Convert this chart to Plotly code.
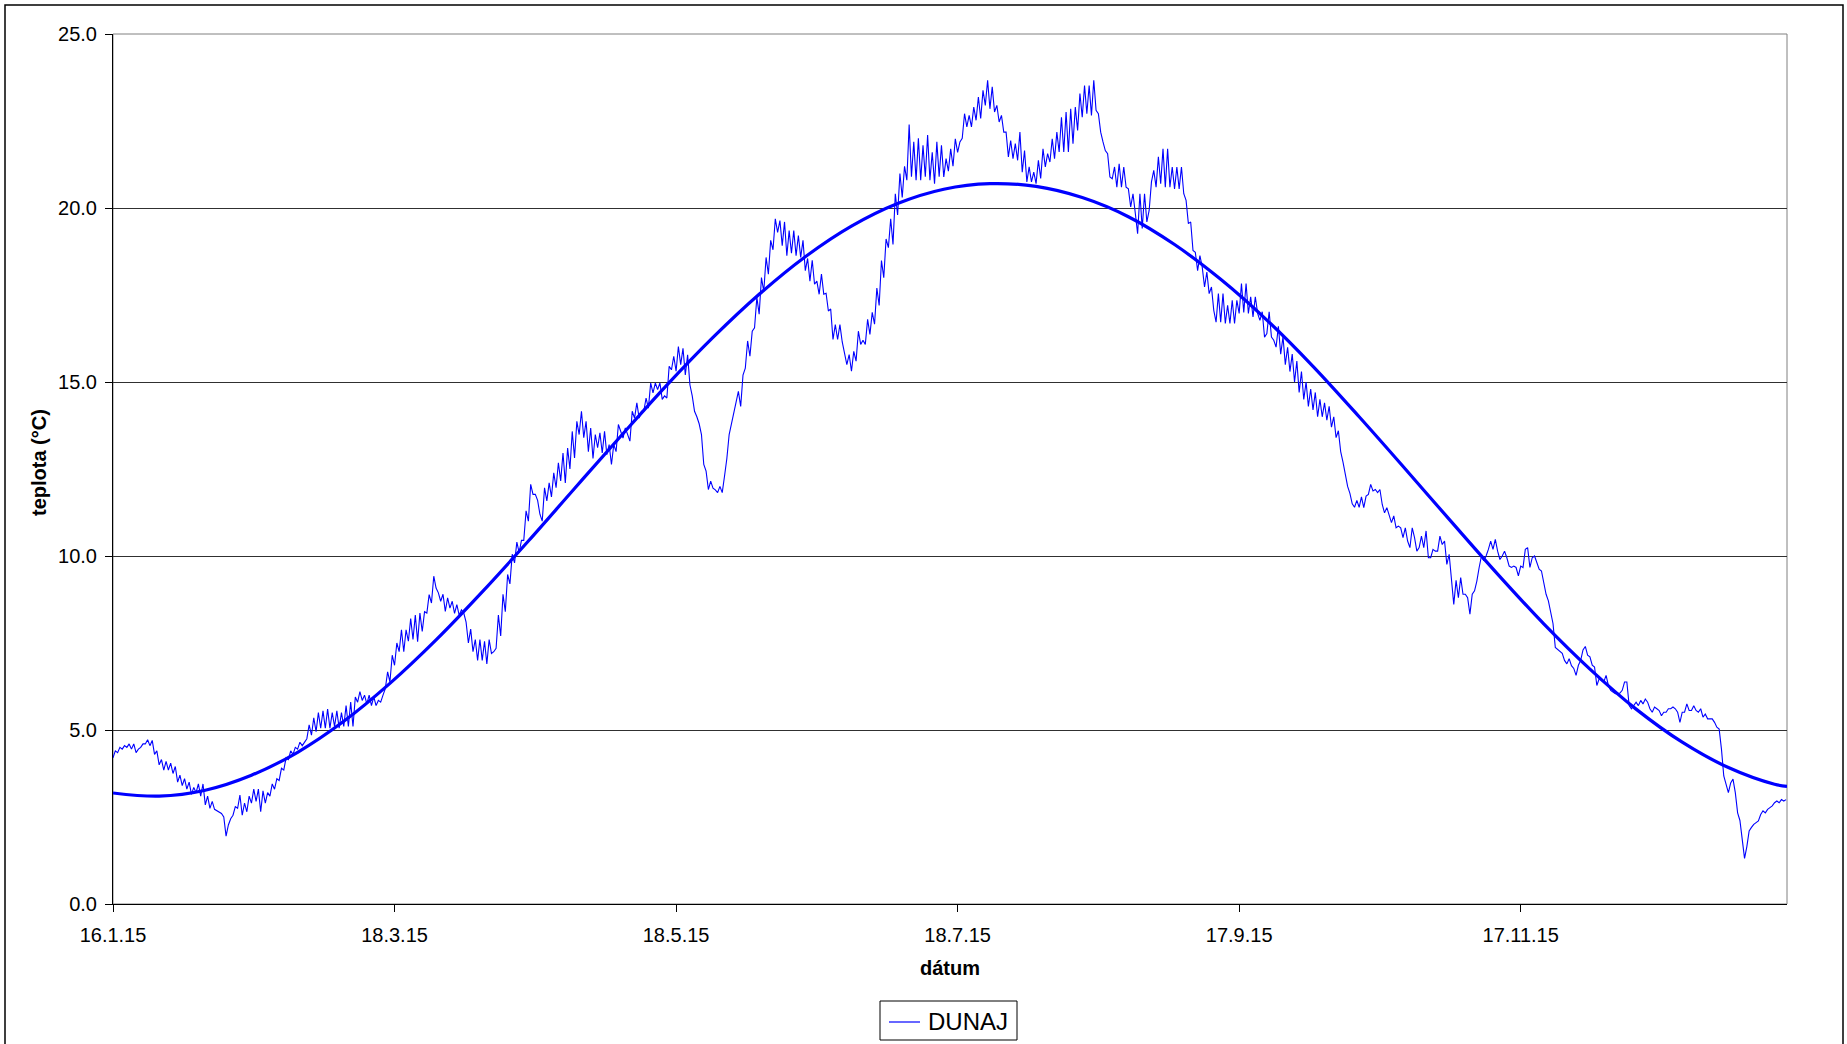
import pandas as pd
import plotly.graph_objects as go

# Danube (DUNAJ) water temperature, readings every 12 hours, grouped by month
jan15 = [4.20, 4.40, 4.35, 4.50, 4.45, 4.55, 4.50, 4.60, 4.45, 4.60, 4.35, 4.45, 4.50, 4.60, 4.60, 4.72,
         4.55, 4.70, 4.30, 4.40, 4.00, 4.15, 3.85, 4.10, 3.85, 4.05, 3.75, 3.95, 3.50, 3.70, 3.40, 3.60]
feb15 = [3.30, 3.50, 3.15, 3.35, 3.20, 3.45, 3.10, 3.45, 2.85, 3.10, 2.75, 2.95, 2.72, 2.68, 2.64, 2.60,
         2.50, 1.95, 2.27, 2.45, 2.55, 2.80, 2.75, 3.13, 2.55, 2.90, 2.65, 3.10, 2.90, 3.30, 2.95, 3.30,
         2.65, 3.25, 2.90, 3.20, 3.10, 3.45, 3.30, 3.60, 3.55, 3.90, 3.85, 4.20, 4.15, 4.40, 4.30, 4.50,
         4.45, 4.65, 4.55, 4.65, 4.75, 5.15, 4.85, 5.35]
mar15 = [4.95, 5.50, 5.05, 5.55, 5.05, 5.60, 5.05, 5.50, 5.10, 5.55, 5.05, 5.50, 5.10, 5.70, 5.10, 5.80,
         5.10, 5.95, 5.80, 6.10, 5.85, 6.00, 5.75, 6.00, 5.70, 5.95, 5.70, 5.85, 5.80, 6.00, 6.19, 6.67,
         6.38, 7.15, 6.86, 7.50, 7.25, 7.88, 7.25, 7.88, 7.55, 8.20, 7.60, 8.30, 7.54, 8.36, 7.83, 8.40,
         8.36, 8.89, 8.65, 9.42, 9.08, 8.94, 8.70, 8.90, 8.41, 8.80, 8.50, 8.70, 8.35, 8.60]
apr15 = [8.30, 8.45, 8.36, 8.10, 7.50, 7.90, 7.25, 7.60, 7.00, 7.60, 7.00, 7.55, 6.90, 7.60, 7.20, 7.25,
         7.35, 8.30, 7.70, 8.90, 8.40, 9.47, 9.20, 10.05, 9.80, 10.40, 10.10, 10.45, 10.45, 11.30, 11.00, 12.06,
         11.77, 11.77, 11.60, 11.20, 11.00, 11.96, 11.58, 12.10, 11.70, 12.39, 11.96, 12.68, 12.16, 12.96, 12.10, 13.10,
         12.50, 13.58, 12.82, 13.87, 13.49, 14.16, 13.40, 13.87, 13.00, 13.68, 12.80, 13.49]
may15 = [13.11, 13.54, 12.96, 13.58, 12.91, 13.20, 12.63, 13.20, 13.00, 13.78, 13.58, 13.39, 13.68, 13.49, 13.30, 14.16,
         13.96, 14.40, 13.96, 14.16, 14.16, 14.54, 14.25, 14.97, 14.69, 14.97, 14.78, 14.97, 14.50, 14.60, 14.54, 15.45,
         15.35, 15.74, 15.31, 16.02, 15.50, 15.97, 15.20, 15.78, 14.92, 14.60, 14.16, 14.00, 13.80, 13.49, 12.63, 12.44,
         11.91, 12.15, 11.95, 11.90, 11.82, 12.00, 11.82, 12.30, 12.80, 13.49, 13.80, 14.10, 14.35, 14.73]
jun15 = [14.30, 15.20, 15.40, 16.18, 15.74, 16.46, 16.56, 17.43, 16.95, 18.00, 17.60, 18.58, 18.10, 19.07, 18.80, 19.69,
         19.30, 19.64, 18.92, 19.60, 18.63, 19.35, 18.70, 19.35, 18.63, 19.21, 18.58, 19.07, 18.20, 18.55, 17.90, 18.50,
         17.81, 17.90, 17.52, 18.10, 17.52, 17.55, 17.04, 17.10, 16.22, 16.65, 16.22, 16.65, 16.15, 15.79, 15.50, 15.79,
         15.31, 15.88, 15.60, 16.46, 16.08, 16.20, 16.08, 16.80, 16.37, 17.00, 16.66, 17.70]
jul15 = [17.20, 18.49, 18.00, 19.11, 18.86, 19.69, 18.95, 20.41, 19.80, 20.99, 20.30, 21.20, 20.80, 22.40, 20.90, 21.90,
         20.80, 22.00, 20.80, 21.80, 20.90, 22.10, 20.80, 21.60, 20.70, 21.90, 20.90, 21.80, 20.89, 21.42, 21.06, 21.70,
         21.20, 21.99, 21.60, 21.90, 22.00, 22.71, 22.33, 22.66, 22.33, 22.90, 22.52, 23.19, 22.57, 23.38, 22.95, 23.67,
         22.85, 23.48, 22.76, 22.95, 22.47, 22.66, 22.18, 22.18, 21.47, 21.94, 21.42, 21.85, 21.37, 22.18]
aug15 = [21.03, 21.65, 20.75, 21.18, 20.75, 21.03, 20.70, 21.37, 20.85, 21.70, 21.18, 21.56, 21.32, 21.99, 21.42, 22.18,
         21.61, 22.61, 21.61, 22.76, 21.61, 22.85, 21.85, 22.90, 22.23, 23.29, 22.61, 23.52, 22.71, 23.52, 22.66, 23.67,
         22.81, 22.71, 22.18, 21.90, 21.65, 21.56, 20.89, 20.84, 21.18, 20.60, 21.27, 20.60, 21.18, 20.60, 20.55, 20.03,
         20.41, 19.85, 19.26, 20.41, 19.41, 20.41, 19.60, 19.93, 20.75, 21.08, 20.60, 21.47, 20.70, 21.70]
sep15 = [20.60, 21.70, 20.60, 21.18, 20.55, 21.18, 20.55, 21.18, 20.41, 20.22, 19.55, 19.60, 18.78, 18.73, 18.20, 18.63,
         18.30, 17.73, 18.16, 17.54, 17.73, 17.06, 16.72, 17.54, 16.72, 17.54, 16.68, 17.20, 16.68, 17.35, 16.68, 17.35,
         16.97, 17.83, 17.00, 17.83, 16.97, 17.45, 16.87, 17.45, 16.97, 16.77, 17.02, 16.29, 16.39, 17.02, 16.29, 16.20,
         16.00, 16.60, 15.80, 16.30, 15.50, 16.00, 15.30, 15.80, 15.00, 15.60, 14.70, 15.30]
oct15 = [14.50, 15.00, 14.30, 14.80, 14.20, 14.70, 14.00, 14.50, 14.00, 14.40, 13.90, 14.30, 13.70, 14.00, 13.40, 13.60,
         13.00, 12.70, 12.30, 12.00, 11.80, 11.50, 11.40, 11.60, 11.40, 11.70, 11.39, 11.72, 11.77, 12.06, 11.87, 11.91,
         11.82, 11.91, 11.48, 11.24, 11.39, 11.20, 10.96, 11.15, 10.81, 10.86, 10.81, 10.53, 10.81, 10.43, 10.24, 10.81,
         10.53, 10.14, 10.24, 10.57, 10.24, 10.72, 9.95, 9.95, 10.19, 10.14, 10.14, 10.57, 10.33, 10.43]
nov15 = [9.76, 10.05, 9.20, 8.61, 9.30, 8.80, 9.38, 8.90, 8.90, 8.80, 8.33, 8.90, 9.00, 9.28, 9.67, 10.00,
         9.86, 10.00, 10.19, 10.43, 10.19, 10.48, 10.14, 9.90, 10.00, 10.14, 9.95, 9.71, 9.67, 9.71, 9.67, 9.43,
         9.71, 9.67, 10.19, 10.24, 9.67, 9.95, 10.00, 9.81, 9.62, 9.57, 9.19, 8.90, 8.71, 8.42, 8.06, 7.37,
         7.32, 7.27, 7.20, 7.00, 6.90, 7.05, 6.85, 6.77, 6.57, 6.86, 7.00, 7.30]
dec15 = [7.40, 7.15, 7.10, 6.86, 6.81, 6.28, 6.47, 6.43, 6.38, 6.57, 6.28, 6.14, 6.09, 6.04, 6.04, 6.06,
         6.14, 6.38, 6.38, 5.70, 5.61, 5.70, 5.80, 5.70, 5.85, 5.75, 5.89, 5.80, 5.61, 5.51, 5.66, 5.61,
         5.56, 5.41, 5.51, 5.51, 5.61, 5.61, 5.66, 5.61, 5.51, 5.22, 5.51, 5.51, 5.75, 5.56, 5.56, 5.70,
         5.56, 5.51, 5.61, 5.37, 5.46, 5.32, 5.32, 5.32, 5.22, 5.08, 5.03, 4.45, 3.68, 3.44]
jan16 = [3.20, 3.48, 3.59, 3.20, 2.62, 2.40, 1.75, 1.31, 1.65, 2.10, 2.20, 2.29, 2.34, 2.39, 2.57, 2.68,
         2.62, 2.72, 2.77, 2.82, 2.91, 2.96, 2.91, 3.00, 2.96, 3.00]

month_starts = ["2015-01-16", "2015-02-01", "2015-03-01", "2015-04-01", "2015-05-01", "2015-06-01",
                "2015-07-01", "2015-08-01", "2015-09-01", "2015-10-01", "2015-11-01", "2015-12-01",
                "2016-01-01"]
month_values = [jan15, feb15, mar15, apr15, may15, jun15, jul15, aug15, sep15, oct15, nov15, dec15, jan16]

# Smoothed annual cycle, sampled every 10 days from 16.1.15 (last sample at the axis end)
trend_days = [0, 10, 20, 30, 40, 50, 60, 70, 80, 90, 100, 110, 120, 130, 140, 150, 160, 170, 180,
              190, 200, 210, 220, 230, 240, 250, 260, 270, 280, 290, 300, 310, 320, 330, 340, 350,
              360, 362.7]
trend_vals = [3.19, 3.10, 3.27, 3.70, 4.36, 5.25, 6.34, 7.59, 8.97, 10.43, 11.94, 13.44, 14.91,
              16.28, 17.52, 18.60, 19.48, 20.13, 20.54, 20.70, 20.62, 20.30, 19.75, 18.95, 17.95,
              16.78, 15.45, 14.00, 12.50, 10.98, 9.48, 8.05, 6.75, 5.60, 4.65, 3.92, 3.44, 3.38]

# Axis ticks
tick_dates = ["2015-01-16", "2015-03-18", "2015-05-18", "2015-07-18", "2015-09-17", "2015-11-17"]
tick_labels = ["16.1.15", "18.3.15", "18.5.15", "18.7.15", "17.9.15", "17.11.15"]

series_name = "DUNAJ"
x_title = "dátum"
y_title = "teplota (°C)"

times, temps = [], []
for start, vals in zip(month_starts, month_values):
    times.extend(pd.date_range(start, periods=len(vals), freq="12h"))
    temps.extend(vals)

origin = pd.Timestamp("2015-01-16")
trend_times = [origin + pd.Timedelta(days=d) for d in trend_days]
x_end = origin + pd.Timedelta(days=362.7)

FONT = "Liberation Sans, Arial, sans-serif"
LINE_BLUE = "#0000ff"
W, H = 1847, 1044
L, R, T, B = 113, 60, 34, 140
pw, ph = W - L - R, H - T - B


def px(x):
    return (x - L) / pw


def py(y):
    return (H - B - y) / ph


fig = go.Figure()
fig.add_trace(go.Scatter(
    x=times, y=temps, mode="lines", name=series_name,
    line=dict(color=LINE_BLUE, width=1.1), showlegend=False,
))
fig.add_trace(go.Scatter(
    x=trend_times, y=trend_vals, mode="lines", line_shape="spline",
    line=dict(color=LINE_BLUE, width=3.2), showlegend=False, hoverinfo="skip",
))

# Legend box below the x-axis title: frame, line key and series name
legend_shapes = [
    dict(type="rect", xref="paper", yref="paper",
         x0=px(880), x1=px(1017), y0=py(1040), y1=py(1001),
         line=dict(color="black", width=1), fillcolor="white", layer="above"),
    dict(type="line", xref="paper", yref="paper",
         x0=px(889), x1=px(920), y0=py(1022), y1=py(1022),
         line=dict(color=LINE_BLUE, width=1.2), layer="above"),
]
legend_text = dict(text=series_name, x=px(926), y=py(1021), xref="paper", yref="paper",
                   xanchor="left", yanchor="middle", showarrow=False,
                   font=dict(size=24, family=FONT, color="black"))

fig.update_layout(
    width=W, height=H,
    margin=dict(l=L, r=R, t=T, b=B, autoexpand=False),
    paper_bgcolor="white", plot_bgcolor="white",
    font=dict(family=FONT, color="black"),
    showlegend=False,
    xaxis=dict(
        type="date", range=[origin, x_end],
        tickvals=tick_dates, ticktext=tick_labels,
        tickfont=dict(size=20, family=FONT, color="black"),
        showgrid=False, zeroline=False,
        showline=True, linecolor="black", linewidth=1,
        ticks="outside", ticklen=7, tickcolor="black", tickwidth=1,
        ticklabelstandoff=6,
    ),
    yaxis=dict(
        range=[0, 25], tick0=0, dtick=5, tickformat=".1f",
        tickfont=dict(size=20, family=FONT, color="black"),
        showgrid=True, gridcolor="#303030", gridwidth=1, zeroline=False,
        showline=True, linecolor="black", linewidth=1,
        ticks="outside", ticklen=7, tickcolor="black", tickwidth=1,
        ticklabelstandoff=4,
    ),
    annotations=[
        dict(text="<b>" + x_title + "</b>", x=0.5, y=py(968), xref="paper", yref="paper",
             xanchor="center", yanchor="middle", showarrow=False,
             font=dict(size=20, family=FONT, color="black")),
        dict(text="<b>" + y_title + "</b>", x=px(39), y=py(463), xref="paper", yref="paper",
             xanchor="center", yanchor="middle", showarrow=False, textangle=-90,
             font=dict(size=20, family=FONT, color="black")),
        legend_text,
    ],
    shapes=[
        # plot-area frame
        dict(type="rect", xref="paper", yref="paper", x0=0, x1=1, y0=0, y1=1,
             line=dict(color="#808080", width=1), layer="below"),
        # outer chart frame
        dict(type="rect", xref="paper", yref="paper",
             x0=px(5), x1=px(1843), y0=py(1050), y1=py(5),
             line=dict(color="black", width=1.5), layer="below"),
    ] + legend_shapes,
)

fig.write_html("out.html")
